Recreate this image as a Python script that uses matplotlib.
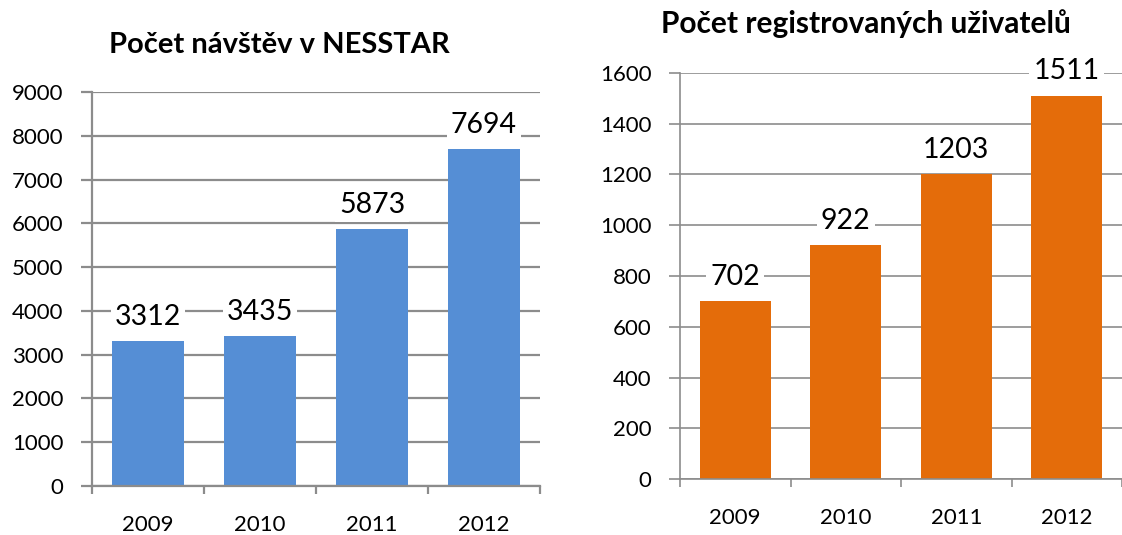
import matplotlib
matplotlib.use("Agg")
import matplotlib.pyplot as plt

plt.rcParams['font.family'] = ['Lato', 'DejaVu Sans']

years = ["2009", "2010", "2011", "2012"]
visits = [3312, 3435, 5873, 7694]
users = [702, 922, 1203, 1511]

title_left = "Počet návštěv v NESSTAR"
title_right = "Počet registrovaných uživatelů"

blue = "#558ED5"
orange = "#E46C0A"
grid_c = "#8C8C8C"

fig = plt.figure(figsize=(11.22, 5.35), dpi=100)

def make(ax, vals, color, ymax, step, lw):
    x = list(range(len(years)))
    ax.bar(x, vals, width=0.64, color=color, zorder=2)
    ax.set_xlim(-0.5, len(years) - 0.5)
    ax.set_ylim(0, ymax)
    ax.set_yticks(range(0, ymax + 1, step))
    ax.yaxis.grid(True, color=grid_c, linewidth=lw, zorder=0)
    ax.set_axisbelow(True)
    for s in ["top", "right"]:
        ax.spines[s].set_visible(False)
    for s in ["left", "bottom"]:
        ax.spines[s].set_color(grid_c)
        ax.spines[s].set_linewidth(lw)
    ax.set_xticks(x)
    ax.set_xticklabels(years, fontsize=16)
    ax.set_xticks([i - 0.5 for i in range(len(years) + 1)], minor=True)
    ax.tick_params(axis='x', which='major', length=0, pad=21)
    ax.tick_params(axis='x', which='minor', length=6, width=lw, color=grid_c, direction='out')
    ax.tick_params(axis='y', length=8, width=lw, color=grid_c, pad=12.5, labelsize=16)
    for xi, v in zip(x, vals):
        ax.annotate(str(v), (xi, v), xytext=(0, 8), textcoords='offset points',
                    ha='center', va='bottom', fontsize=20.5, zorder=3,
                    bbox=dict(facecolor='white', edgecolor='none', pad=3))

ax1 = fig.add_axes([92/1122, 49/535, 448/1122, 394/535])
make(ax1, visits, blue, 9000, 1000, 1.6)
ax2 = fig.add_axes([680/1122, 56/535, 442/1122, 406/535])
make(ax2, users, orange, 1600, 200, 1.2)

fig.text(279/1122, 1 - 45/535, title_left, ha='center', va='center', fontsize=21, fontweight='bold')
fig.text(866/1122, 1 - 24/535, title_right, ha='center', va='center', fontsize=21.5, fontweight='bold')

fig.savefig("out.png", dpi=100)
